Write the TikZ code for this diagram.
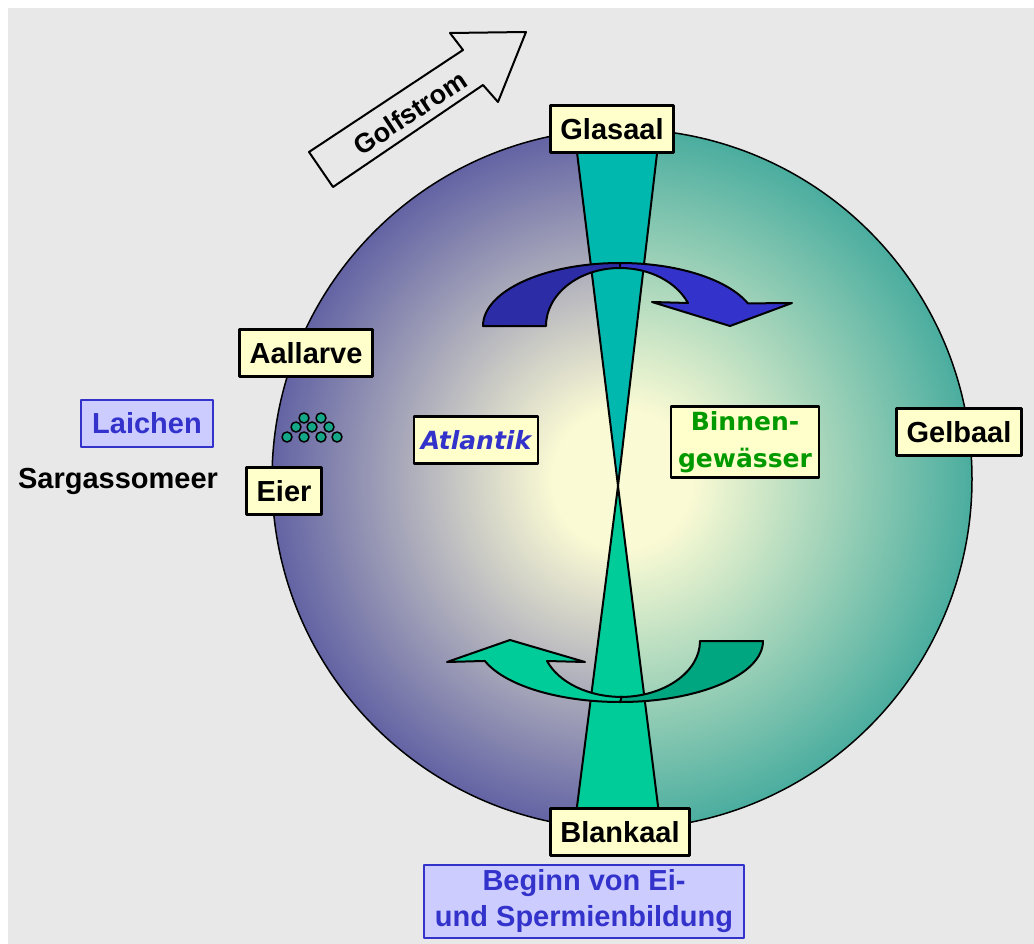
\documentclass[tikz,border=0pt]{standalone}
\usepackage{fontspec}
\setmainfont{Liberation Sans}
\newfontfamily\comicfont{DejaVu Sans}
\usepackage{tikz}
\usetikzlibrary{positioning}
\definecolor{bggray}{RGB}{232,232,232}
\definecolor{boxyellow}{RGB}{255,255,204}
\definecolor{noteblue}{RGB}{204,204,255}
\definecolor{inkblue}{RGB}{51,51,204}
\definecolor{inkgreen}{RGB}{0,153,0}
\definecolor{seablue}{RGB}{54,54,150}
\definecolor{riverteal}{RGB}{22,150,143}
\definecolor{glowcenter}{RGB}{250,250,212}
\definecolor{glasteal}{RGB}{0,184,174}
\definecolor{blankgreen}{RGB}{0,204,153}
\definecolor{blankdark}{RGB}{0,166,128}
\definecolor{arrowblue}{RGB}{51,51,204}
\definecolor{arrowdark}{RGB}{44,44,166}
\definecolor{eggteal}{RGB}{20,168,136}
\pgfdeclareradialshading{seaglow}{\pgfpoint{0bp}{0bp}}{%
  color(0bp)=(glowcenter); color(5bp)=(glowcenter); color(31bp)=(seablue); color(50bp)=(seablue)}
\pgfdeclareradialshading{riverglow}{\pgfpoint{0bp}{0bp}}{%
  color(0bp)=(glowcenter); color(5bp)=(glowcenter); color(31bp)=(riverteal); color(50bp)=(riverteal)}
\tikzset{
  every picture/.style = {
    line join = round,
  }
  ,
  outline/.style = {
    draw = black,
    line width = 2pt
  }
  , % yellow stage boxes
  stage/.style = {
    rectangle,
    draw = black,
    line width = 2.4pt,
    fill = boxyellow,
    font = \bfseries\fontsize{29}{35}\selectfont,
    inner xsep = 10pt,
    inner ysep = 0pt,
    minimum height = 47pt
  }
  , % water regions
  region/.style = {
    stage,
    font = \comicfont\bfseries\fontsize{25}{37}\selectfont,
    align = center,
    inner xsep = 7pt,
    inner ysep = 5pt
  }
  , % blue notes
  note/.style = {
    rectangle,
    draw = inkblue,
    line width = 2pt,
    fill = noteblue,
    text = inkblue,
    font = \bfseries\fontsize{29}{36}\selectfont,
    align = center,
    inner xsep = 11pt,
    inner ysep = 5pt,
    minimum height = 47pt
  }
  ,
  egg/.style = {
    circle,
    draw = black,
    line width = 1.5pt,
    fill = eggteal,
    inner sep = 0pt,
    minimum size = 10pt
  }
}
\begin{document}
\begin{tikzpicture}[x=1pt, y=-1pt]
    \useasboundingbox (0,0) rectangle (1034,944);
    \fill[white] (0,0) rectangle (1034,944);
    \fill[bggray] (8,8) rectangle (1034,944);

    % globe: sea half and river half
    \coordinate (mid) at (622,479);
    \begin{scope}
        \clip (260,100) rectangle (618,860);
        \shade[shading=seaglow] (mid) circle (350pt);
    \end{scope}
    \begin{scope}
        \clip (618,100) rectangle (990,860);
        \shade[shading=riverglow] (mid) circle (350pt);
    \end{scope}
    \draw[line width=1.5pt] (mid) circle (350pt);

    % hourglass
    \coordinate (waist) at (618,486);
    \draw[outline, fill=glasteal] (574,128) -- (660,128) -- (waist) -- cycle;
    \draw[outline, fill=blankgreen] (waist) -- (661,830) -- (574,830) -- cycle;

    % upper turn (blue)
    \draw[outline, fill=arrowdark] (483,326)
        arc[start angle=180, end angle=90, x radius=137pt, y radius=63pt]
        -- (620,268)
        arc[start angle=90, end angle=180, x radius=74pt, y radius=58pt]
        -- cycle;
    \draw[outline, fill=arrowblue] (620,263)
        arc[start angle=90, end angle=21, x radius=137pt, y radius=63pt]
        -- (792,303) -- (730,326) -- (652,302) -- (688,303)
        arc[start angle=23.4, end angle=90, x radius=74pt, y radius=58pt]
        -- cycle;

    % lower turn (green)
    \draw[outline, fill=blankdark] (763,641)
        arc[start angle=0, end angle=-90, x radius=143pt, y radius=61pt]
        -- (620,697)
        arc[start angle=-90, end angle=0, x radius=80pt, y radius=56pt]
        -- cycle;
    \draw[outline, fill=blankgreen] (620,702)
        arc[start angle=-90, end angle=-160.9, x radius=143pt, y radius=61pt]
        -- (447,662) -- (510,640) -- (585,662) -- (547,661)
        arc[start angle=-159, end angle=-90, x radius=80pt, y radius=56pt]
        -- cycle;

    % gulf stream
    \draw[outline, fill=bggray] (309,152) -- (463,50) -- (450,33) -- (526,32)
        -- (498,102) -- (483,85) -- (333,187) -- cycle;
    \node[rotate=33.5, font=\bfseries\fontsize{27}{33}\selectfont] (golf) at (410,113) {Golfstrom};

    % stages
    \node[stage] (glas) at (612,129) {Glasaal};
    \node[stage] (gelb) at (959,432) {Gelbaal};
    \node[stage] (blank) at (620,832) {Blankaal};
    \node[stage] (larve) at (306,353) {Aallarve};
    \node[stage] (eier) at (284,491) {Eier};

    % regions
    \node[region, text=inkblue, font=\comicfont\bfseries\itshape\fontsize{25}{37}\selectfont] (sea) at (476,440) {Atlantik};
    \node[region, text=inkgreen] (river) at (745,442) {Binnen-\\gew\"asser};

    % notes
    \node[note] (laich) at (147,423) {Laichen};
    \node[font=\bfseries\fontsize{29}{35}\selectfont] (sargasso) at (118,481) {Sargassomeer};
    \node[note, below=7pt of blank, xshift=-36pt] (gonad) {Beginn von Ei-\\und Spermienbildung};

    % eggs
    \foreach \ex/\ey [count=\i] in {304/418, 321/418, 296/427, 312/427, 329/427,
                                   287/437, 304/437, 321/437, 337/437}
        \node[egg] (egg\i) at (\ex,\ey) {};
\end{tikzpicture}
\end{document}
